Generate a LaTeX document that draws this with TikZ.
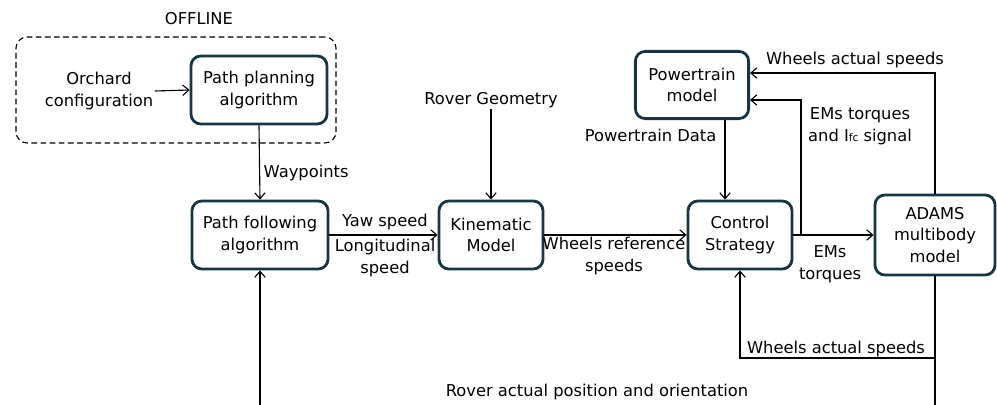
\documentclass[tikz,border=0pt]{standalone}
\usepackage{fontspec}
\setmainfont{DejaVu Sans}
\usetikzlibrary{arrows.meta,positioning}
\definecolor{boxline}{HTML}{163645}

\begin{document}
\begin{tikzpicture}[
    x=0.025cm,y=-0.025cm,
    font=\fontsize{11.6}{15.5}\selectfont,
    blk/.style={draw=boxline,line width=2pt,rounded corners=7pt,align=center,inner sep=0pt},
    conn/.style={-{Straight Barb[length=1.5mm,width=2.6mm]},line width=.8pt},
    lbl/.style={align=center,inner sep=1pt}
  ]
    \useasboundingbox (0,0) rectangle (997,405);
    % offline part
    \node[draw,dash pattern=on 4pt off 2.5pt,line width=.8pt,rounded corners=8pt,minimum width=8cm,minimum height=2.65cm] (offbox) at (176,90) {};
    \node[lbl] (offl) at (199,19) {OFFLINE};
    \node[lbl] (orch) at (99,91) {Orchard\\configuration};
    \node[blk,minimum width=3.4cm,minimum height=1.7cm] (plan) at (259,90) {Path planning\\algorithm};
    % main chain
    \node[blk,minimum width=3.4cm,minimum height=1.7cm] (follow) at (260,235) {Path following\\algorithm};
    \node[blk,minimum width=2.6cm,minimum height=1.7cm] (kin) at (491,235) {Kinematic\\Model};
    \node[lbl] (geom) at (491,100) {Rover Geometry};
    \node[blk,minimum width=2.83cm,minimum height=1.68cm] (pwr) at (692,85) {Powertrain\\model};
    \node[blk,minimum width=2.6cm,minimum height=1.7cm] (ctrl) at (740,235) {Control\\Strategy};
    \node[blk,minimum width=3cm,minimum height=2cm] (adams) at (935,235) {ADAMS\\multibody\\model};
    \coordinate (jt) at (801,235);
    \coordinate (jb) at (935,358);
    \coordinate (adbot) at (935,405);
    \coordinate (pfbot) at (260,405);
    % connectors
    \draw[conn] (orch.east) -- (plan.west);
    \draw[conn] (plan.south) -- (follow.north);
    \draw[conn] (follow.east) -- (kin.west);
    \draw[conn] (geom.south) -- (kin.north);
    \draw[conn] (kin.east) -- (ctrl.west);
    \draw[conn] (pwr.south -| 725,0) -- (ctrl.north -| 725,0);
    \draw[conn] (ctrl.east) -- (adams.west);
    \draw[conn] (jt) |- (pwr.east |- 0,100);
    \draw[conn] (adams.north) |- (pwr.east |- 0,73);
    \draw[line width=.8pt] (adams.south) -- (adbot);
    \draw[conn] (jb) -| (ctrl.south);
    \draw[conn] (pfbot) -- (follow.south);
    % labels
    \node[lbl,anchor=west] (wayp) at (262,173) {Waypoints};
    \node[lbl] (yaw) at (385,222) {Yaw speed};
    \node[lbl] (longi) at (385,258) {Longitudinal\\speed};
    \node[lbl] (wref) at (614,256) {Wheels reference\\speeds};
    \node[lbl,anchor=east] (pdata) at (718,135) {Powertrain Data};
    \node[lbl] (emsif) at (860,126) {EMs torques\\and I{\fontsize{7.5}{7.5}\selectfont fc} signal};
    \node[lbl] (emst) at (830,264) {EMs\\torques};
    \node[lbl] (wact) at (855,60) {Wheels actual speeds};
    \node[lbl] (wactb) at (836,349) {Wheels actual speeds};
    \node[lbl] (pose) at (597,392) {Rover actual position and orientation};
  \end{tikzpicture}
\end{document}
